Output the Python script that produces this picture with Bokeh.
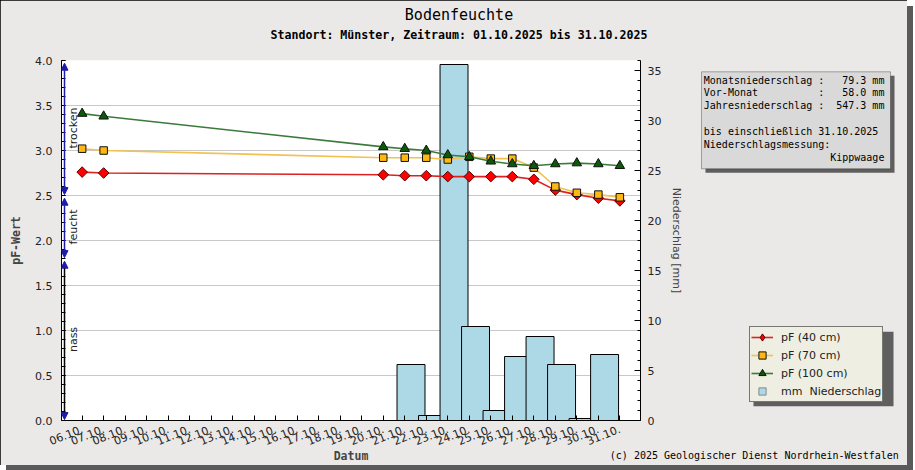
import math
from bokeh.plotting import figure
from bokeh.layouts import column
from bokeh.models import (Range1d, LinearAxis, FixedTicker, SingleIntervalTicker, PrintfTickFormatter,
                          Legend, LegendItem, Label, BoxAnnotation, Arrow, NormalHead, ColumnDataSource)
from bokeh.transform import dodge
from bokeh.embed import file_html
from bokeh.resources import INLINE

# ---------------- data ----------------
title_text = "Bodenfeuchte"
subtitle_text = "Standort: Münster, Zeitraum: 01.10.2025 bis 31.10.2025"

pf_days = [6, 7, 20, 21, 22, 23, 24, 25, 26, 27, 28, 29, 30, 31]
pf_40cm = [2.76, 2.75, 2.73, 2.72, 2.72, 2.71, 2.71, 2.71, 2.71, 2.68, 2.56, 2.51, 2.47, 2.44]
pf_70cm = [3.02, 3.00, 2.92, 2.92, 2.92, 2.90, 2.93, 2.91, 2.91, 2.81, 2.60, 2.53, 2.51, 2.48]
pf_100cm = [3.41, 3.38, 3.04, 3.02, 3.00, 2.95, 2.93, 2.88, 2.85, 2.83, 2.85, 2.86, 2.85, 2.83]

rain_days = [21, 22, 23, 24, 25, 26, 27, 28, 29, 30]
rain_mm = [5.6, 0.5, 35.6, 9.4, 1.0, 6.4, 8.4, 5.6, 0.2, 6.6]

tick_days = [6, 7, 8, 9, 10, 11, 12, 13, 14, 15, 16, 17, 18, 19, 20,
             21, 22, 23, 24, 25, 26, 27, 28, 29, 30, 31]
tick_labels = ["06.10.", "07.10.", "08.10.", "09.10.", "10.10.", "11.10.", "12.10.",
               "13.10.", "14.10.", "15.10.", "16.10.", "17.10.", "18.10.", "19.10.",
               "20.10.", "21.10.", "22.10.", "23.10.", "24.10.", "25.10.", "26.10.",
               "27.10.", "28.10.", "29.10.", "30.10.", "31.10."]

series_names = ["pF (40 cm)", "pF (70 cm)", "pF (100 cm)"]
rain_name = "mm\u00a0 Niederschlag"

class_names = ["nass", "feucht", "trocken"]
class_lower = [0.0, 1.8, 2.5]
class_upper = [1.8, 2.5, 4.0]

info_keys = ["Monatsniederschlag", "Vor-Monat", "Jahresniederschlag"]
info_values = ["79.3 mm", "58.0 mm", "547.3 mm"]
info_until = "bis einschließlich 31.10.2025"
info_method_label = "Niederschlagsmessung:"
info_method = "Kippwaage"
copyright_text = "(c) 2025 Geologischer Dienst Nordrhein-Westfalen"

# ---------------- style ----------------
BG = "#ebe9e7"
NAVY = "#1c1ca8"
MONO = "DejaVu Sans Mono"
SANS = "DejaVu Sans"
W, H = 907, 462
RED_L, RED_F, RED_E = "#dd2222", "#ff0000", "#5a0000"
YEL_L, YEL_F = "#f2c14e", "#ffb80f"
GRN_L, GRN_F = "#3a7a3a", "#0a5a0a"

# ================= main chart =================
p = figure(frame_width=579, frame_height=360,
           min_border_left=61, min_border_right=W - 61 - 579, min_border_top=60,
           min_border_bottom=H - 60 - 360,
           x_range=Range1d(5.04, 31.96), y_range=Range1d(0, 4),
           output_backend="svg", toolbar_location=None, title_location=None,
           background_fill_color="white", border_fill_color=BG, outline_line_color=None)
p.frame_align = False
p.extra_y_ranges = {"mm": Range1d(0, 36)}

# x axis
xa = p.xaxis[0]
xa.ticker = FixedTicker(ticks=tick_days)
xa.major_label_overrides = {d: l for d, l in zip(tick_days, tick_labels)}
xa.major_label_orientation = 0.38
xa.major_tick_in = 5
xa.major_tick_out = 0
xa.minor_tick_line_color = None
xa.major_label_standoff = 8
xa.major_label_text_font = SANS
xa.major_label_text_font_size = "11px"
xa.major_label_text_color = "#222222"
xa.axis_label = "Datum"
xa.axis_label_text_font = MONO
xa.axis_label_text_font_style = "bold"
xa.axis_label_text_font_size = "11.5px"
xa.axis_label_standoff = -3
xa.axis_line_color = "black"

# left axis
ya = p.yaxis[0]
ya.ticker = SingleIntervalTicker(interval=0.5, num_minor_ticks=5)
ya.formatter = PrintfTickFormatter(format="%.1f")
ya.major_tick_in = 4
ya.major_tick_out = 0
ya.minor_tick_in = 4
ya.minor_tick_out = 0
ya.major_label_standoff = 9
ya.major_label_text_font = SANS
ya.major_label_text_font_size = "11px"
ya.major_label_text_color = "#222222"
ya.axis_label = "pF-Wert"
ya.axis_label_text_font = MONO
ya.axis_label_text_font_style = "bold"
ya.axis_label_text_font_size = "11.5px"
ya.axis_label_standoff = 9

p.ygrid.ticker = ya.ticker
p.ygrid.grid_line_color = "#c8c8c8"
p.xgrid.grid_line_color = None

# right axis
ra = LinearAxis(y_range_name="mm", ticker=SingleIntervalTicker(interval=5, num_minor_ticks=5),
                axis_label="Niederschlag [mm]")
ra.major_tick_in = 6
ra.major_tick_out = 0
ra.minor_tick_in = 3
ra.minor_tick_out = 0
ra.major_label_standoff = 7
ra.major_label_text_font = SANS
ra.major_label_text_font_size = "11px"
ra.major_label_text_color = "#222222"
ra.axis_label_text_font = SANS
ra.axis_label_text_font_style = "normal"
ra.axis_label_text_font_size = "11px"
ra.axis_label_standoff = 6
p.add_layout(ra, "right")

# precipitation bars
rain_src = ColumnDataSource(dict(day=rain_days, mm=rain_mm))
p.vbar(x=dodge("day", 0.29), width=1.3, top="mm", bottom=0, source=rain_src,
       y_range_name="mm", fill_color="#add8e6", line_color="black", line_width=1)

# pF series
src = ColumnDataSource(dict(day=pf_days, a=pf_40cm, b=pf_70cm, c=pf_100cm))
p.line("day", "a", source=src, line_color=RED_L, line_width=1.6)
p.scatter("day", "a", source=src, marker="square", angle=math.pi / 4, size=7.5,
          fill_color=RED_F, line_color=RED_E)
p.line("day", "b", source=src, line_color=YEL_L, line_width=1.6)
p.scatter("day", "b", source=src, marker="square", size=7.5, fill_color=YEL_F, line_color="#111111")
p.line("day", "c", source=src, line_color=GRN_L, line_width=1.6)
p.scatter("day", "c", source=src, marker="triangle", size=9.5, fill_color=GRN_F, line_color="#111111")

# moisture class indicator on the left
ind_x = 5.18
class_line_colors = ["black", NAVY, NAVY]
for lo, hi, name, lc in zip(class_lower, class_upper, class_names, class_line_colors):
    p.add_layout(Arrow(x_start=ind_x, y_start=lo + 0.01, x_end=ind_x, y_end=hi - 0.03,
                       start=NormalHead(size=7, fill_color=NAVY, line_color=NAVY),
                       end=NormalHead(size=7, fill_color=NAVY, line_color=NAVY),
                       line_color=lc, line_width=1.5))
    p.add_layout(Label(x=ind_x, y=(lo + hi) / 2, x_offset=2, text=name, angle=math.pi / 2,
                       text_align="center", text_baseline="top", text_font=SANS,
                       text_font_size="11px", text_color="#222222"))

# ================= overlay (titles, info box, legend) in pixel coordinates =================
q = figure(width=W, height=H, min_border=0, x_range=Range1d(0, W), y_range=Range1d(H, 0),
           output_backend="svg", toolbar_location=None, title_location=None,
           x_axis_location=None, y_axis_location=None,
           background_fill_alpha=0, border_fill_alpha=0, outline_line_color=None)
q.frame_align = False
q.grid.visible = False
q.margin = (-H, 0, 0, 0)

DY = -2.5  # baseline correction for "middle" aligned mono text

def txt(x, y, t, size="10px", align="left", style="normal"):
    q.add_layout(Label(x=x, y=y + DY, text=t, text_align=align, text_baseline="middle",
                       text_font=MONO, text_font_size=size, text_font_style=style,
                       text_color="black"))

txt(458.5, 14, title_text, "15px", "center")
txt(458.5, 34, subtitle_text, "11.6px", "center", "bold")
txt(609.3, 454.5, copyright_text)

# info box with shadow
q.add_layout(BoxAnnotation(left=705, right=894, top=72.3, bottom=169.3,
                           fill_color="#5f5f5f", fill_alpha=1, line_color=None))
q.add_layout(BoxAnnotation(left=701, right=890, top=68.3, bottom=165.3,
                           fill_color="#d9d9d9", fill_alpha=1, line_color="black", line_width=1))
col0, cw, row0, rh = 703.3, 6.02, 79.0, 12.9
for i, (k, v) in enumerate(zip(info_keys, info_values)):
    txt(col0, row0 + rh * i, k)
    txt(col0 + 19 * cw, row0 + rh * i, ":")
    txt(col0 + 30 * cw, row0 + rh * i, v, align="right")
txt(col0, row0 + rh * 4, info_until)
txt(col0, row0 + rh * 5, info_method_label)
txt(col0 + 30 * cw, row0 + rh * 6, info_method, align="right")

# legend with shadow; icons come from hidden copies of the series renderers
q.add_layout(BoxAnnotation(left=753, right=893, top=328.3, bottom=402.7,
                           fill_color="#5f5f5f", fill_alpha=1, line_color=None))
g40 = [q.line("day", "a", source=src, line_color=RED_L, line_width=1.6, visible=False),
       q.scatter("day", "a", source=src, marker="diamond", size=7.5,
                 fill_color=RED_F, line_color=RED_E, visible=False)]
g70 = [q.line("day", "b", source=src, line_color=YEL_L, line_width=1.6, visible=False),
       q.scatter("day", "b", source=src, marker="square", size=7.5, fill_color=YEL_F,
                 line_color="#111111", visible=False)]
g100 = [q.line("day", "c", source=src, line_color=GRN_L, line_width=1.6, visible=False),
        q.scatter("day", "c", source=src, marker="triangle", size=9.5, fill_color=GRN_F,
                  line_color="#111111", visible=False)]
grain = [q.scatter("day", "mm", source=rain_src, marker="square", size=12, fill_color="#add8e6",
                   line_color="#888888", visible=False)]
legend = Legend(items=[LegendItem(label=series_names[0], renderers=g40),
                       LegendItem(label=series_names[1], renderers=g70),
                       LegendItem(label=series_names[2], renderers=g100),
                       LegendItem(label=rain_name, renderers=grain)],
                location=(749, H - 399), orientation="vertical", click_policy="none",
                background_fill_color="#eeeee3", background_fill_alpha=1,
                border_line_color="black", border_line_width=1,
                label_text_font=SANS, label_text_font_size="11px", label_text_color="#222222",
                glyph_width=22, glyph_height=18, label_height=16, spacing=0, padding=1,
                margin=0, label_standoff=8)
q.add_layout(legend, "center")

layout = column(p, q, spacing=0)
layout.styles = {"outline": "1px solid #000", "outline-offset": "-1px",
                 "box-shadow": "6px 6px 0 #5a5a5a"}

open("out.html", "w").write(file_html(layout, INLINE))
